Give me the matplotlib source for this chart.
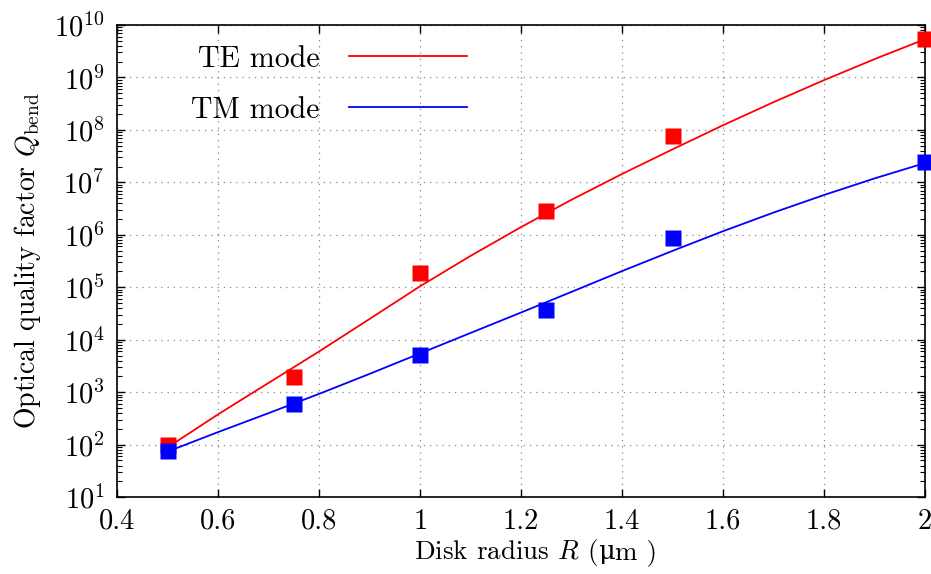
import matplotlib
matplotlib.use("Agg")
import matplotlib.pyplot as plt
from matplotlib.ticker import LogLocator, NullFormatter, FixedLocator
from matplotlib.offsetbox import TextArea, HPacker, AnchoredOffsetbox

# ---- data ----
R_curve = [0.5, 0.6, 0.7, 0.8, 0.9, 1.0, 1.1, 1.2, 1.3, 1.4, 1.5, 1.6, 1.7, 1.8, 1.9, 2.0]
Q_te_curve = [89, 380, 1510, 6000, 2.5e4, 1.05e5, 3.98e5, 1.41e6, 4.68e6, 1.45e7,
              4.27e7, 1.23e8, 3.39e8, 8.9e8, 2.24e9, 5.37e9]
Q_tm_curve = [74, 174, 400, 930, 2240, 5500, 1.35e4, 3.31e4, 8.2e4, 2.04e5,
              4.95e5, 1.175e6, 2.66e6, 5.75e6, 1.19e7, 2.34e7]

R_pts = [0.5, 0.75, 1.0, 1.25, 1.5, 2.0]
Q_te_pts = [98, 1920, 1.9e5, 2.86e6, 7.7e7, 5.5e9]
Q_tm_pts = [75, 583, 5.1e3, 3.7e4, 8.7e5, 2.4e7]

x_ticks = [0.4, 0.6, 0.8, 1.0, 1.2, 1.4, 1.6, 1.8, 2.0]
x_ticklabels = ["0.4", "0.6", "0.8", "1", "1.2", "1.4", "1.6", "1.8", "2"]

plt.rcParams['font.family'] = ['cmr10', 'DejaVu Serif']
plt.rcParams['mathtext.fontset'] = 'cm'
plt.rcParams['axes.formatter.use_mathtext'] = True

fig = plt.figure(figsize=(9.31, 5.74), dpi=100)
ax = fig.add_axes([0.126, 0.134, 0.8676, 0.8224])

ax.plot(R_curve, Q_te_curve, color='#ff0000', lw=1.3, label='TE mode', zorder=3)
ax.plot(R_curve, Q_tm_curve, color='#0000ff', lw=1.3, label='TM mode', zorder=3)
ax.plot(R_pts, Q_te_pts, 's', color='#ff0000', ms=11.5, mec='none', clip_on=False, zorder=4)
ax.plot(R_pts, Q_tm_pts, 's', color='#0000ff', ms=11.5, mec='none', clip_on=False, zorder=5)

ax.set_yscale('log')
ax.set_xlim(0.4, 2.0)
ax.set_ylim(1e1, 1e10)
ax.xaxis.set_major_locator(FixedLocator(x_ticks))
ax.set_xticklabels(x_ticklabels)
ax.yaxis.set_major_locator(LogLocator(base=10, numticks=20))
ax.yaxis.set_minor_locator(LogLocator(base=10, subs=range(2, 10), numticks=20))
ax.yaxis.set_minor_formatter(NullFormatter())

ax.tick_params(which='both', direction='in', top=True, right=True, labelsize=20.5)
ax.tick_params(which='major', length=6, width=1.0)
ax.tick_params(which='minor', length=3.5, width=0.8)
ax.tick_params(axis='x', pad=8)
ax.tick_params(axis='y', pad=9)
for s in ax.spines.values():
    s.set_linewidth(1.2)

ax.grid(True, which='major', linestyle=(0, (1, 4)), color='#888888', lw=0.9)

# x label with an upright micro sign from a serif font that has it
fs_x = 19.5
parts = [
    TextArea("Disk radius $R$ (", textprops=dict(fontsize=fs_x, family='cmr10')),
    TextArea("\u03bc", textprops=dict(fontsize=fs_x * 0.95, family='DejaVu Serif')),
    TextArea("m )", textprops=dict(fontsize=fs_x, family='cmr10')),
]
box = HPacker(children=parts, align='baseline', pad=0, sep=0)
anch = AnchoredOffsetbox(loc='upper center', child=box, frameon=False,
                         bbox_to_anchor=(0.518, -0.085), bbox_transform=ax.transAxes,
                         borderpad=0, pad=0)
ax.add_artist(anch)

ax.set_ylabel(r"Optical quality factor $Q_{\rm bend}$", fontsize=20, labelpad=8)

leg = ax.legend(loc='upper left', frameon=False, markerfirst=False, fontsize=21.5,
                handlelength=3.95, handletextpad=1.0,
                bbox_to_anchor=(0.058, 1.0135), labelspacing=0.78)

fig.savefig("out.png", dpi=100)
